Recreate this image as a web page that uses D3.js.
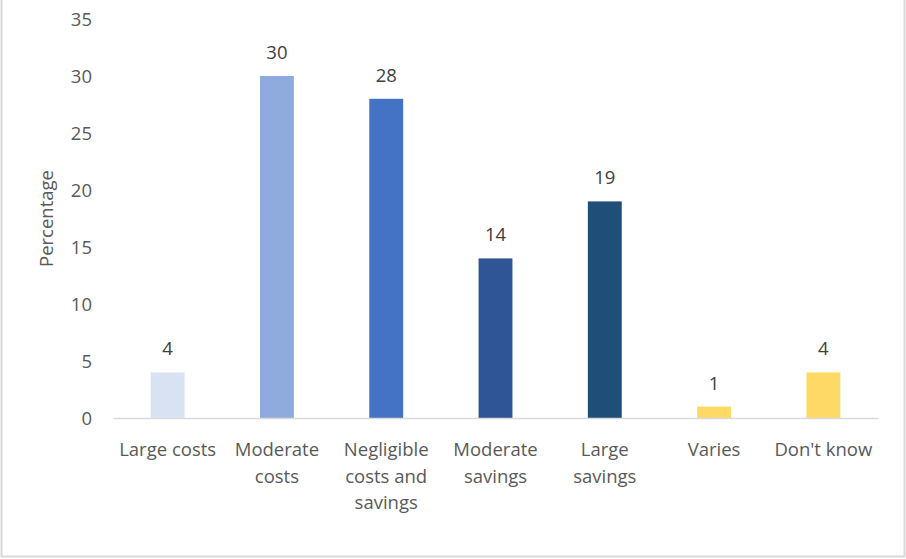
<!DOCTYPE html>
<html>
<head>
<meta charset="utf-8">
<script src="https://cdn.jsdelivr.net/npm/d3@7"></script>
<style>
  html, body { margin: 0; padding: 0; background: #fff; }
  svg { display: block; }
</style>
</head>
<body>
<svg id="chart" width="906" height="559"></svg>
<script>
// Categories, values and bar colours
const categories = [
  ["Large costs"],
  ["Moderate", "costs"],
  ["Negligible", "costs and", "savings"],
  ["Moderate", "savings"],
  ["Large", "savings"],
  ["Varies"],
  ["Don't know"]
];
const values = [4, 30, 28, 14, 19, 1, 4];
const barColors = ["#d9e2f3", "#8faadc", "#4472c4", "#2f5597", "#1f4e79", "#ffd966", "#ffd966"];
const yTicks = [0, 5, 10, 15, 20, 25, 30, 35];

const svg = d3.select("#chart");
const W = 906, H = 559;
const font = "'Open Sans', 'Noto Sans', sans-serif";
const fontSize = 18.5;
const textColor = "#595959";

// Chart area frame
svg.append("rect")
  .attr("x", 1.5).attr("y", -2)
  .attr("width", W - 3).attr("height", H - 0.5)
  .attr("fill", "#fff")
  .attr("stroke", "#d9d9d9")
  .attr("stroke-width", 2);

const plot = { left: 113, right: 878, top: 19, bottom: 418 };

const keys = categories.map((c, i) => i);
const x = d3.scaleBand()
  .domain(keys)
  .range([plot.left, plot.right])
  .paddingInner(0.69)
  .paddingOuter(0.345);

const y = d3.scaleLinear()
  .domain([0, 35])
  .range([plot.bottom, plot.top]);

// Y axis tick labels (no axis line)
const yAxis = d3.axisLeft(y).tickValues(yTicks).tickSize(0).tickPadding(0);
const yg = svg.append("g")
  .attr("transform", `translate(92,0)`)
  .call(yAxis);
yg.select(".domain").remove();
yg.selectAll("text")
  .attr("font-family", font)
  .attr("font-size", fontSize)
  .attr("fill", textColor)
  .attr("dy", "0.35em");

// Y axis title
svg.append("text")
  .attr("transform", `translate(53,${(plot.top + plot.bottom) / 2}) rotate(-90)`)
  .attr("text-anchor", "middle")
  .attr("font-family", font)
  .attr("font-size", fontSize)
  .attr("fill", textColor)
  .text("Percentage");

// Bars
svg.append("g").selectAll("rect")
  .data(values)
  .join("rect")
  .attr("x", (d, i) => x(i))
  .attr("y", d => y(d))
  .attr("width", x.bandwidth())
  .attr("height", d => y(0) - y(d))
  .attr("fill", (d, i) => barColors[i]);

// Value labels
svg.append("g").selectAll("text")
  .data(values)
  .join("text")
  .attr("x", (d, i) => x(i) + x.bandwidth() / 2)
  .attr("y", d => y(d) - 17)
  .attr("text-anchor", "middle")
  .attr("font-family", font)
  .attr("font-size", fontSize)
  .attr("fill", "#404040")
  .text(d => d);

// X axis baseline
const xAxis = d3.axisBottom(x).tickSize(0).tickFormat("");
const xg = svg.append("g")
  .attr("transform", `translate(0,${plot.bottom})`)
  .call(xAxis);
xg.select(".domain").attr("stroke", "#d9d9d9").attr("stroke-width", 1.3);

// Category labels, wrapped
const labels = svg.append("g").selectAll("text")
  .data(categories)
  .join("text")
  .attr("x", (d, i) => x(i) + x.bandwidth() / 2)
  .attr("y", 456)
  .attr("text-anchor", "middle")
  .attr("font-family", font)
  .attr("font-size", fontSize)
  .attr("fill", textColor);
labels.selectAll("tspan")
  .data(d => d)
  .join("tspan")
  .attr("x", function () { return d3.select(this.parentNode).attr("x"); })
  .attr("dy", (d, j) => j === 0 ? 0 : 26.5)
  .text(d => d);
</script>
</body>
</html>
